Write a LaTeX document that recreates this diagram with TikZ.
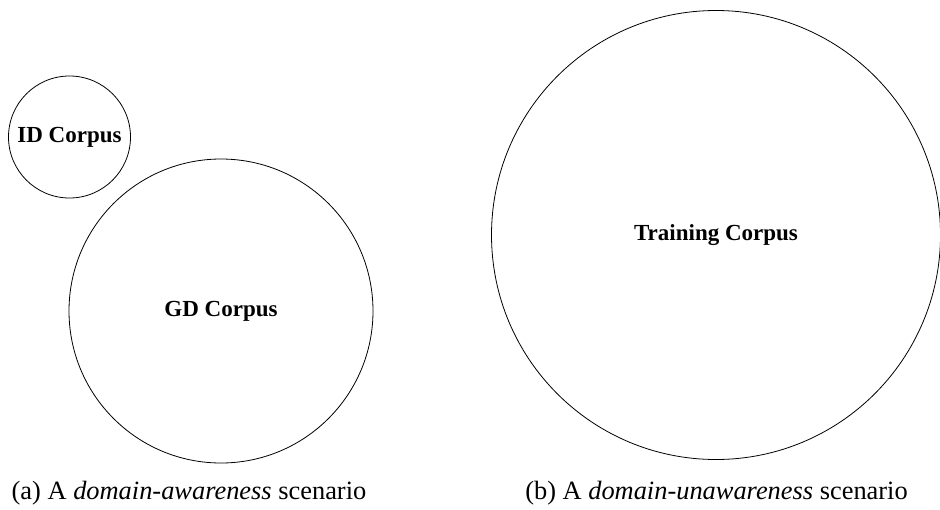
\documentclass[tikz,border=0pt]{standalone}
\usepackage{fontspec}
\setmainfont{Liberation Serif}
\usetikzlibrary{positioning}

\begin{document}
\begin{tikzpicture}[
  x=1pt, y=1pt,
  corpus/.style={draw, circle, line width=0.8pt, inner sep=0pt, align=center, font=\fontsize{23}{27}\selectfont\bfseries},
  subcap/.style={anchor=base, inner sep=0pt, font=\fontsize{26.4}{31}\selectfont},
]
  \useasboundingbox (0,0) rectangle (940,-509);
  % (a) domain-awareness
  \node[corpus, minimum size=122pt] (id) at (69.5,-137) {ID Corpus};
  \node[corpus, minimum size=304pt] (gd) at (221,-311) {GD Corpus};
  % (b) domain-unawareness
  \node[corpus, minimum size=449pt] (train) at (716,-235) {Training Corpus};
  \node[subcap] (capa) at (189,-499) {(a) A \textit{domain-awareness} scenario};
  \node[subcap] (capb) at (716.5,-499) {(b) A \textit{domain-unawareness} scenario};
\end{tikzpicture}
\end{document}
